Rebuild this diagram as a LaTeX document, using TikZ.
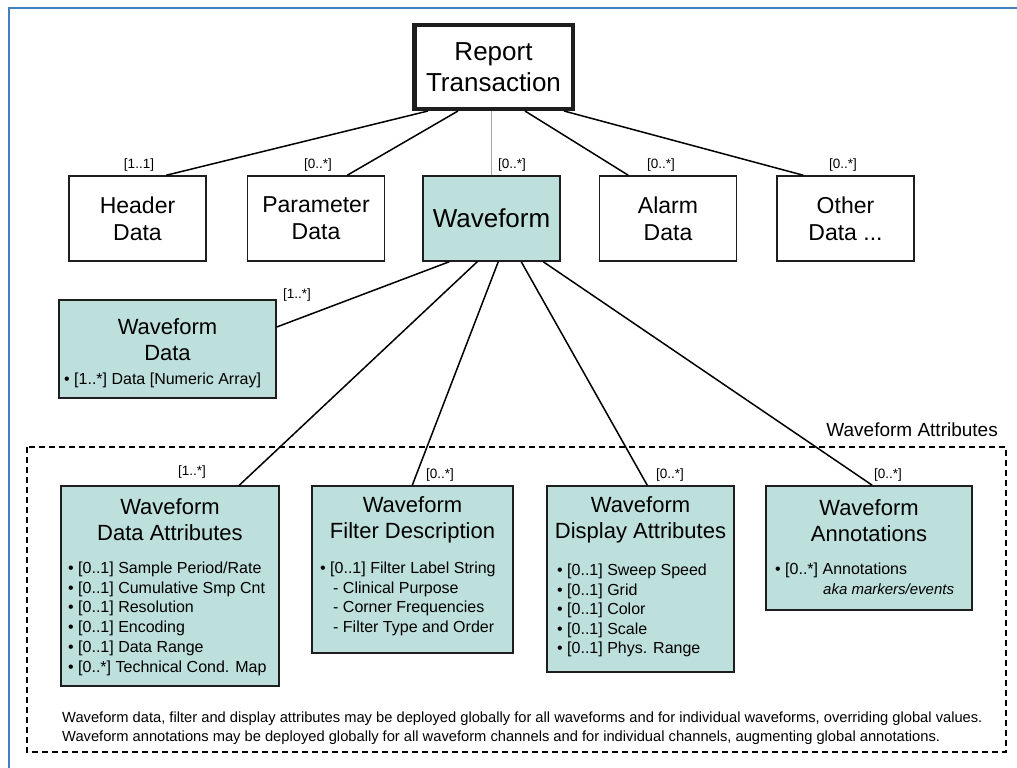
\documentclass[tikz,border=0pt]{standalone}
\usepackage{fontspec}
\setmainfont{Liberation Sans}
\usetikzlibrary{calc}
\definecolor{wfteal}{RGB}{189,224,221}
\definecolor{frameblue}{RGB}{70,126,196}
\definecolor{boxline}{RGB}{30,30,30}
\tikzset{
  box/.style={draw=boxline, line width=1.5pt, inner sep=0pt, align=center},
  tbox/.style={box, fill=wfteal},
  conn/.style={line width=1.5pt, black},
  card/.style={font=\fontsize{13.5}{14}\selectfont, inner sep=0pt},
  ttl/.style={font=\fontsize{22}{26}\selectfont, align=center, inner sep=0pt},
  bul/.style={font=\fontsize{16}{19}\selectfont, inner sep=0pt, anchor=base west},
  note/.style={font=\fontsize{14.7}{16}\selectfont, inner sep=0pt, anchor=base west},
}
\begin{document}
\begin{tikzpicture}[x=1pt,y=-1pt]
\useasboundingbox (0,0) rectangle (1017,768);
% outer frame
\draw[frameblue, line width=2.6pt] (9,768) -- (9,8) -- (1017,8);

% top node
\node[box, line width=4.5pt, minimum width=158.5pt, minimum height=83.5pt,
      font=\fontsize{26}{31}\selectfont] (rt) at (493.5,67) {Report\\Transaction};

% second row
\node[box, minimum width=137pt, minimum height=85pt, font=\fontsize{23}{27}\selectfont] (hd) at (137.5,218.5) {Header\\Data};
\node[box, minimum width=137pt, minimum height=85pt, font=\fontsize{23}{27}\selectfont] (pd) at (316,218.5) {Parameter\\Data};
\node[tbox, minimum width=137pt, minimum height=85pt, font=\fontsize{26}{30}\selectfont] (wf) at (491.5,218.5) {Waveform};
\node[box, minimum width=137pt, minimum height=85pt, font=\fontsize{23}{27}\selectfont] (ad) at (668,218.5) {Alarm\\Data};
\node[box, minimum width=137pt, minimum height=85pt, font=\fontsize{23}{27}\selectfont] (od) at (845.5,218.5) {Other\\Data ...};

% cardinalities top
\node[card] (c1) at (139,165) {[1..1]};
\node[card] (c2) at (318,165) {[0..*]};
\node[card] (c3) at (512,165) {[0..*]};
\node[card] (c4) at (661,165) {[0..*]};
\node[card] (c5) at (843,165) {[0..*]};

% connectors top
\draw[conn] ([xshift=16pt]rt.south west) -- ([xshift=98pt]hd.north west);
\draw[conn] ([xshift=46pt]rt.south west) -- ([xshift=100.5pt]pd.north west);
\draw[gray!70, line width=0.8pt] (wf.north |- rt.south) -- (wf.north);
\draw[conn] ([xshift=113pt]rt.south west) -- ([xshift=29.5pt]ad.north west);
\draw[conn] ([xshift=152pt]rt.south west) -- ([xshift=27pt]od.north west);

% waveform data
\node[tbox, minimum width=217pt, minimum height=98pt] (wd) at (167.5,349) {};
\node[ttl] (wdt) at (167.5,339.5) {Waveform\\Data};
\node[bul] (wdb) at (64,384.5) {• [1..*] Data [Numeric Array]};
\node[card] (c6) at (297,295) {[1..*]};
\draw[conn] ([xshift=27pt]wf.south west) -- ([yshift=22pt]wd.east);

% dashed group
\draw[line width=1.1pt, dash pattern=on 6pt off 4pt] (27,447) rectangle (1006,752);
\node[font=\fontsize{19}{22}\selectfont, inner sep=0pt, anchor=base east] (wat) at (998,436) {Waveform Attributes};

% lower boxes
\node[tbox, minimum width=218pt, minimum height=200pt] (da) at (170,586) {};
\node[tbox, minimum width=201pt, minimum height=167pt] (fd) at (412.5,569.5) {};
\node[tbox, minimum width=187pt, minimum height=186pt] (dd) at (640.5,579) {};
\node[tbox, minimum width=206pt, minimum height=124pt] (an) at (869,548) {};

\node[ttl] (dat) at (170,520) {Waveform\\Data Attributes};
\node[ttl] (fdt) at (412.5,520) {Waveform\\Filter Description};
\node[ttl] (ddt) at (640.5,520) {Waveform\\Display Attributes};
\node[ttl] (ant) at (869,521) {Waveform\\Annotations};

\foreach [count=\i] \t in {{[0..1] Sample Period/Rate},{[0..1] Cumulative Smp Cnt},{[0..1] Resolution},{[0..1] Encoding},{[0..1] Data Range},{[0..*] Technical Cond. Map}}
  \node[bul] (dab\i) at (68,{573.5+19.7*(\i-1)}) {• \t};

\node[bul] (fdb1) at (320,573.5) {• [0..1] Filter Label String};
\foreach [count=\i] \t in {Clinical Purpose,Corner Frequencies,Filter Type and Order}
  \node[bul] (fdb\i s) at (333,{573.5+19.7*\i}) {- \t};

\foreach [count=\i] \t in {{[0..1] Sweep Speed},{[0..1] Grid},{[0..1] Color},{[0..1] Scale},{[0..1] Phys. Range}}
  \node[bul] (ddb\i) at (557,{575.5+19.5*(\i-1)}) {• \t};

\node[bul] (anb1) at (775,574.5) {• [0..*] Annotations};
\node[bul, font=\fontsize{15}{18}\selectfont\itshape] (anb2) at (823,594.5) {aka markers/events};

% lower cardinalities
\node[card] (c7) at (192,472) {[1..*]};
\node[card] (c8) at (440,475) {[0..*]};
\node[card] (c9) at (670,475) {[0..*]};
\node[card] (c10) at (888,475) {[0..*]};

% connectors lower
\draw[conn] ([xshift=55pt]wf.south west) -- ([xshift=179pt]da.north west);
\draw[conn] ([xshift=76pt]wf.south west) -- ([xshift=101pt]fd.north west);
\draw[conn] ([xshift=99pt]wf.south west) -- ([xshift=101pt]dd.north west);
\draw[conn] ([xshift=121pt]wf.south west) -- ([xshift=107pt]an.north west);

% footnote
\node[note] (n1) at (62,722) {Waveform data, filter and display attributes may be deployed globally for all waveforms and for individual waveforms, overriding global values.};
\node[note] (n2) at (62,741) {Waveform annotations may be deployed globally for all waveform channels and for individual channels, augmenting global annotations.};
\end{tikzpicture}
\end{document}
